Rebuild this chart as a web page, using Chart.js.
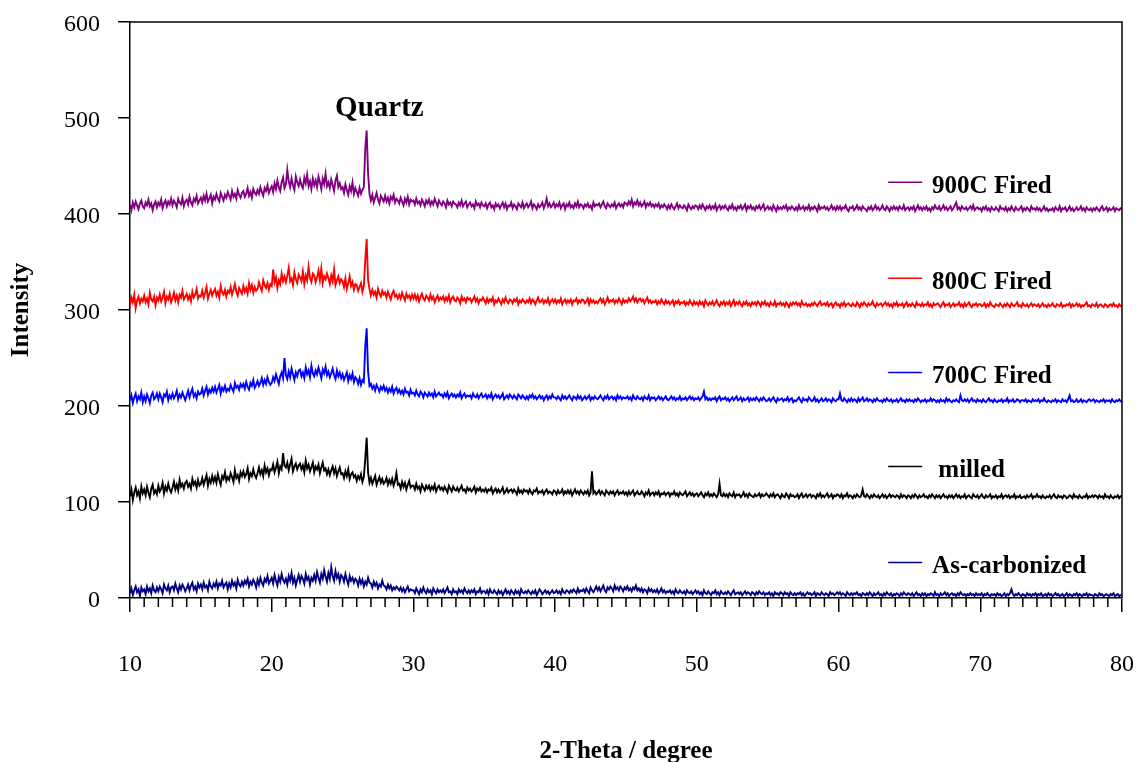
<!DOCTYPE html>
<html><head><meta charset="utf-8">
<script src="https://cdn.jsdelivr.net/npm/chart.js@4.4.1/dist/chart.umd.min.js"></script>
<style>html,body{margin:0;padding:0;background:#fff;}canvas{display:block;}</style>
</head><body>
<canvas id="c" width="1137" height="762"></canvas>
<script>
// ---- data: intensities, 2-theta from 10 to 80 in 0.1 degree steps (one line = one degree) ----
const TWO_THETA_START = 10;
const TWO_THETA_STEP = 0.1;
const X_TICKS = [10, 20, 30, 40, 50, 60, 70, 80];
const Y_TICKS = [0, 100, 200, 300, 400, 500, 600];
const SERIES_NAMES = ['900C Fired', '800C Fired', '700C Fired', 'milled', 'As-carbonized'];

const fired900 = [
410,404,412,407,413,409,405,411,414,408,
406,412,409,415,408,411,404,410,413,407,
412,409,415,406,411,414,408,413,410,416,
409,414,411,407,416,412,410,417,408,413,
415,410,418,412,409,416,413,419,411,414,
417,412,419,414,421,413,416,420,411,418,
415,421,416,413,422,418,414,420,417,423,
419,415,424,418,421,416,425,420,417,422,
424,418,421,427,419,423,417,426,422,420,
425,421,428,423,419,427,424,430,422,426,
429,423,432,426,435,428,424,433,438,427,
431,446,434,428,437,430,425,439,433,429,
436,430,427,438,432,441,429,434,426,437,
430,435,428,439,433,426,437,431,442,429,
433,427,436,430,424,435,440,428,432,426,
428,422,431,425,420,429,424,433,421,427,
423,419,427,421,425,428,468,487,442,421,
414,420,412,417,422,415,411,419,416,413,
419,413,417,411,418,415,420,412,416,414,
411,417,413,409,416,412,418,410,415,413,
414,410,416,411,413,409,415,412,408,414,
411,415,409,413,410,416,412,408,414,411,
409,413,411,407,414,410,412,408,413,411,
410,407,412,409,414,408,411,413,407,410,
412,408,410,406,413,409,411,407,412,409,
408,411,406,410,412,407,409,405,411,408,
410,406,409,412,407,411,405,409,408,412,
406,410,408,405,411,409,407,412,406,409,
411,407,409,413,406,410,408,405,410,407,
409,412,406,410,416,408,411,407,409,412,
407,410,408,412,406,409,411,405,410,408,
412,407,409,406,411,408,413,407,410,409,
406,410,408,411,407,409,405,412,408,410,
409,411,407,410,413,408,406,411,409,407,
410,408,412,406,409,411,408,410,407,412,
411,409,413,410,415,408,412,410,414,409,
412,408,410,413,407,411,409,412,408,410,
407,410,408,411,406,409,407,410,408,405,
409,406,410,407,405,408,411,406,409,407,
406,409,407,404,410,407,405,408,406,409,
408,405,409,406,410,407,404,408,406,409,
405,408,406,410,404,407,409,405,408,406,
409,406,404,408,406,410,405,407,404,408,
406,409,405,407,410,404,408,406,409,405,
407,404,408,406,409,405,407,410,404,406,
408,405,407,404,409,406,403,408,405,407,
405,408,406,409,404,407,405,408,406,404,
407,404,409,405,406,408,404,407,405,409,
404,407,405,408,406,403,409,405,407,406,
408,405,407,404,406,409,405,407,404,408,
405,408,404,407,406,409,405,403,407,406,
408,404,406,409,405,407,404,408,406,405,
403,407,405,408,404,406,409,405,407,404,
406,409,405,404,408,406,403,407,405,408,
405,407,404,408,406,405,409,404,406,407,
404,407,405,408,403,406,409,405,407,404,
407,405,408,404,406,403,407,405,409,406,
405,408,404,406,409,405,407,404,406,408,
404,406,409,412,405,407,404,408,406,405,
407,404,406,408,405,409,404,406,407,405,
406,403,407,405,408,404,406,403,407,405,
404,407,405,403,408,405,406,404,407,403,
406,404,408,405,403,407,405,404,406,408,
403,406,404,407,405,403,408,405,406,404,
407,404,406,403,405,408,404,406,403,405,
404,406,403,407,405,404,408,403,406,405,
407,403,405,408,404,406,403,405,407,404,
405,408,404,406,403,407,405,404,406,403,
406,404,407,405,403,406,408,404,405,407,
403,406,404,405,407,403,406,405,404,406,
405];

const fired800 = [
305,313,308,316,302,310,314,307,312,309,
315,308,312,306,318,311,309,314,305,313,
310,316,309,313,319,307,314,311,317,308,
312,318,310,315,308,316,313,320,311,314,
317,311,315,309,319,313,316,322,312,315,
314,320,313,318,324,312,317,321,315,319,
322,315,319,313,325,318,316,321,314,320,
318,324,316,321,327,319,315,323,320,317,
325,319,323,317,328,321,326,318,324,320,
322,329,324,320,331,326,323,328,321,327,
325,342,329,334,323,331,327,338,330,335,
329,336,344,330,333,326,339,332,328,337,
334,330,340,327,336,331,345,333,329,338,
336,329,334,341,331,343,328,335,332,338,
333,327,336,330,342,326,331,335,328,332,
330,324,333,322,328,335,325,329,321,327,
326,320,324,328,319,325,352,374,331,322,
315,321,316,319,313,322,317,314,320,316,
318,313,319,315,311,317,320,314,316,312,
316,312,318,314,310,317,313,315,311,316,
312,316,311,315,309,314,317,312,310,315,
313,310,316,311,314,308,312,315,310,313,
311,314,309,313,310,315,308,312,314,310,
309,313,311,307,314,310,312,308,313,311,
312,308,311,314,309,312,307,311,310,313,
310,307,312,308,311,309,313,306,310,308,
312,309,306,311,308,313,309,307,311,310,
307,311,309,312,306,310,308,311,309,307,
310,308,312,307,311,309,306,310,313,308,
309,311,307,310,308,312,306,309,311,308,
311,307,310,308,312,306,309,311,307,310,
308,311,306,310,309,312,307,310,308,311,
310,307,309,312,306,311,308,310,307,309,
307,310,312,308,311,306,309,313,308,310,
309,311,307,310,308,312,309,306,311,308,
310,308,312,309,311,314,309,312,308,311,
312,309,311,307,310,313,308,310,307,309,
308,310,306,309,307,311,308,306,310,307,
309,306,308,310,305,309,307,310,306,308,
307,309,305,308,306,310,307,305,309,306,
308,305,309,306,308,304,310,307,305,308,
306,309,305,307,310,306,304,308,306,309,
305,308,306,309,304,307,310,305,308,306,
309,306,304,308,306,309,305,307,304,308,
306,308,305,309,307,304,308,306,309,305,
307,304,308,306,305,309,304,307,306,308,
305,307,304,308,306,303,307,305,308,306,
308,305,307,304,309,306,305,307,304,306,
304,307,305,308,306,304,307,309,305,306,
307,305,308,304,306,307,303,306,308,305,
306,303,307,305,308,304,306,307,305,304,
307,305,304,308,306,303,307,305,308,306,
304,307,305,306,309,305,303,307,305,306,
307,304,306,308,305,307,304,306,303,307,
305,308,304,306,305,307,303,306,308,304,
306,304,307,305,303,308,305,306,304,307,
304,306,305,308,304,306,303,307,305,306,
307,305,303,306,308,304,306,305,307,303,
305,307,304,306,305,308,304,306,303,307,
304,306,308,305,303,306,305,307,304,306,
306,304,305,307,303,306,304,308,305,304,
303,306,305,304,307,305,303,306,304,307,
305,303,307,305,304,306,308,304,305,303,
307,305,304,306,303,305,307,304,306,305,
304,306,303,305,307,304,305,303,306,304,
305,307,304,303,306,305,304,307,303,305,
304,306,305,307,303,306,304,305,307,304,
306,303,305,304,306,308,304,305,303,306,
305,304,307,303,305,306,304,303,306,305,
303,305,306,304,307,304,305,303,306,304,
305];

const fired700 = [
206,211,203,209,213,205,210,207,214,204,
210,205,212,208,203,211,214,207,209,213,
207,213,209,204,212,210,215,206,211,208,
213,208,211,216,207,212,209,214,210,206,
211,216,209,214,218,210,213,208,215,212,
213,218,211,216,220,212,217,214,219,215,
220,214,218,222,213,219,216,221,215,218,
216,222,218,215,224,219,221,217,223,220,
223,218,225,220,217,224,221,227,219,222,
226,221,224,229,222,227,223,230,225,222,
224,230,226,233,228,223,231,235,229,250,
232,228,236,230,239,233,227,235,231,237,
238,231,235,229,240,233,237,230,242,234,
231,237,233,240,235,229,238,234,241,232,
236,230,234,239,232,228,237,231,235,229,
233,227,231,235,226,232,228,234,225,230,
228,223,229,222,227,225,262,281,236,221,
223,218,221,216,222,219,215,220,217,221,
216,219,214,218,215,220,213,217,219,214,
217,213,216,212,218,214,215,211,217,213,
214,211,216,212,210,215,213,209,214,212,
210,214,211,213,209,215,210,212,214,211,
212,209,213,210,214,208,211,213,210,212,
209,212,210,214,208,211,213,209,211,210,
211,208,213,210,209,212,208,211,213,209,
210,212,208,211,209,213,207,210,212,209,
211,208,210,213,207,209,211,208,212,210,
208,211,209,207,212,210,208,211,209,207,
210,207,211,209,212,208,210,207,209,211,
208,210,206,209,211,207,210,208,212,209,
209,207,210,208,206,211,208,210,207,209,
211,208,206,210,209,207,211,208,210,206,
208,210,207,209,211,206,209,207,210,208,
207,209,211,208,206,210,208,211,207,209,
210,207,209,206,211,208,210,207,209,208,
208,210,207,209,206,211,208,207,210,208,
207,209,206,210,208,207,211,206,209,208,
209,206,208,210,207,209,206,208,210,207,
206,208,210,207,209,206,208,207,210,206,
208,207,209,206,208,210,207,209,206,208,
207,209,206,208,210,215,207,209,206,208,
206,208,207,209,205,208,210,206,208,207,
209,206,208,205,207,209,206,208,210,206,
207,209,205,208,206,207,209,205,208,206,
208,206,209,207,205,208,206,209,207,205,
206,208,205,207,209,206,204,208,206,207,
208,205,207,206,209,205,207,208,204,206,
205,207,209,206,204,208,206,207,205,209,
207,205,206,209,205,207,204,206,208,205,
206,208,205,207,206,204,208,206,205,207,
207,213,206,205,208,206,204,207,205,208,
205,207,206,204,208,205,207,209,205,206,
208,205,207,206,204,207,205,208,206,205,
206,204,207,205,208,206,205,207,204,206,
205,207,204,206,208,205,206,204,207,205,
207,205,206,204,207,205,208,206,204,206,
205,207,204,206,205,208,205,207,206,204,
206,204,207,205,206,204,208,205,207,205,
204,206,205,207,205,204,211,206,205,207,
205,207,204,206,208,205,206,204,207,205,
206,204,207,205,204,206,208,205,206,204,
207,205,204,206,205,207,204,206,205,208,
204,206,205,207,204,205,207,206,204,206,
206,205,207,204,206,205,204,207,205,206,
205,207,204,206,205,208,205,204,206,205,
204,206,205,207,204,206,205,204,207,205,
206,204,207,211,205,206,204,205,207,204,
205,207,204,206,205,204,206,207,205,206,
207,204,206,205,204,206,205,207,204,206,
205,206,204,207,205,204,206,205,207,205,
205];

const milled = [
106,113,102,110,115,107,111,104,116,109,
113,107,116,110,105,114,118,109,112,108,
117,111,114,120,109,116,112,119,113,110,
115,121,113,118,112,123,116,119,114,120,
122,116,119,114,124,118,121,115,123,117,
119,125,118,123,128,117,124,120,127,121,
126,120,129,123,118,127,124,131,122,126,
123,130,126,121,133,125,128,122,131,127,
132,126,129,135,124,130,127,134,128,125,
130,136,129,133,127,138,131,135,128,134,
133,139,131,136,142,130,137,134,151,138,
136,141,133,139,145,132,137,140,134,138,
140,134,138,131,143,135,139,132,136,141,
131,137,134,139,130,136,141,133,135,129,
134,128,133,137,130,135,127,132,136,129,
130,125,132,127,134,124,129,131,126,128,
122,127,124,129,121,126,145,167,131,120,
125,119,123,127,118,122,126,120,124,119,
121,125,118,123,119,124,117,122,130,118,
119,114,121,116,120,113,118,122,115,117,
117,113,119,114,116,111,118,115,112,117,
114,117,112,116,113,118,111,115,117,113,
115,112,116,113,110,117,114,111,116,113,
112,115,111,114,117,112,113,110,115,112,
114,111,113,116,110,114,112,115,111,113,
111,114,110,113,112,115,109,112,114,110,
113,110,112,115,109,111,114,110,112,113,
110,113,111,108,114,110,112,109,113,111,
112,109,113,110,108,112,111,114,109,111,
110,112,108,111,113,109,111,110,108,112,
111,108,112,109,110,113,108,111,109,112,
109,112,107,110,113,109,111,108,112,110,
108,111,109,112,107,110,132,109,111,108,
110,112,108,111,109,107,112,110,108,111,
109,111,107,110,112,108,110,109,111,108,
110,107,111,108,110,112,107,109,111,108,
108,111,109,106,110,108,112,107,109,110,
107,110,108,111,106,109,108,110,107,109,
110,106,109,108,111,107,109,106,110,108,
107,109,111,106,108,110,107,109,106,108,
109,106,108,110,107,105,109,107,110,106,
108,106,109,107,105,108,119,107,106,109,
106,108,105,109,107,106,110,105,108,107,
108,105,107,110,106,108,105,109,107,106,
105,108,106,107,109,105,108,106,107,109,
107,105,108,106,109,105,107,108,106,104,
108,106,105,109,107,104,108,106,107,105,
106,108,104,107,109,105,106,108,105,107,
108,105,107,106,104,108,106,109,105,107,
105,107,109,105,106,108,104,107,106,108,
107,105,108,104,107,106,109,105,107,106,
104,107,105,108,106,105,107,113,106,105,
108,106,104,107,105,108,106,105,107,104,
106,108,105,107,104,106,108,105,107,106,
105,107,106,104,108,105,107,106,104,107,
106,104,107,105,108,106,104,107,105,106,
108,105,106,104,107,105,108,106,104,107,
105,107,104,106,108,105,106,104,107,105,
107,104,106,108,105,107,104,106,105,108,
104,106,107,105,104,108,106,105,107,104,
106,108,105,104,107,105,106,108,104,106,
105,107,104,106,105,108,104,106,107,105,
107,104,106,105,108,104,106,105,107,104,
105,106,104,107,105,106,108,104,106,105,
108,105,106,104,107,105,104,106,105,107,
104,106,108,105,104,107,105,106,104,107,
106,104,105,107,106,104,108,105,106,104,
107,105,104,106,105,108,104,106,105,107,
105,107,106,104,107,105,106,104,108,105,
106,104,107,105,104,106,105,107,104,106,
106];

const asCarbonized = [
5,10,3,8,12,6,9,2,11,7,
9,4,12,7,10,5,13,8,6,11,
7,12,9,5,14,10,8,13,6,11,
12,8,15,10,6,13,9,14,11,7,
10,14,8,13,16,9,12,7,15,11,
14,9,16,11,13,8,17,12,10,15,
12,17,10,15,13,18,11,14,16,9,
15,11,18,13,16,10,19,14,12,17,
13,18,15,20,12,17,14,19,16,11,
19,14,21,16,13,20,17,23,15,18,
21,15,24,18,13,22,17,25,19,16,
20,14,23,18,26,16,21,13,19,24,
17,23,20,15,25,19,22,14,21,18,
24,18,27,21,16,25,20,29,22,17,
26,20,32,23,18,28,21,25,17,24,
22,17,25,19,14,23,18,21,16,20,
18,13,20,15,19,12,17,14,21,16,
15,11,17,13,16,10,14,12,18,13,
12,9,14,10,13,8,11,9,12,10,
8,11,7,10,6,9,12,7,9,8,
8,5,10,7,4,9,6,11,7,5,
9,6,8,4,10,7,5,9,6,8,
6,9,5,8,11,6,7,4,9,6,
7,4,9,6,8,5,10,7,5,8,
5,8,6,9,4,7,6,10,5,7,
7,5,8,4,9,6,5,8,6,4,
8,5,7,3,6,9,5,7,4,8,
6,4,8,5,7,3,9,6,5,7,
5,8,6,4,7,5,8,3,6,9,
7,4,6,8,5,7,4,6,8,5,
6,8,5,7,4,9,6,5,8,7,
5,8,6,9,7,5,10,6,8,7,
9,6,10,7,5,11,8,6,9,12,
8,11,7,10,13,8,6,11,9,12,
10,7,13,9,11,8,12,10,7,11,
9,12,8,10,7,11,9,13,8,10,
7,10,6,9,8,5,10,7,9,6,
8,6,9,5,7,10,6,8,5,7,
6,8,5,7,4,9,6,5,8,6,
5,7,4,8,6,5,7,4,6,8,
5,7,4,6,3,8,5,4,7,5,
3,6,5,8,4,6,3,7,5,4,
6,4,7,5,3,6,8,4,5,6,
4,6,3,5,7,4,6,5,3,6,
5,3,6,4,7,5,4,6,3,5,
4,6,3,5,2,6,4,5,3,6,
5,3,6,4,5,2,6,4,3,5,
3,5,4,6,3,5,2,4,6,4,
5,3,4,6,2,5,4,3,6,4,
3,5,4,2,6,4,5,3,4,6,
4,6,3,5,4,2,6,4,3,5,
3,5,4,6,3,4,2,5,4,3,
5,3,6,4,2,5,3,4,6,3,
4,2,5,3,6,4,3,5,2,4,
3,5,4,2,5,3,6,4,3,5,
4,3,5,2,4,6,3,4,2,5,
3,5,2,4,3,5,4,2,6,3,
4,2,5,3,4,6,3,5,2,4,
5,3,4,2,5,3,6,4,3,4,
2,4,3,5,3,4,2,5,3,4,
3,5,2,4,3,5,3,2,4,3,
4,2,5,3,4,2,3,5,2,4,
3,5,9,4,2,4,3,5,3,2,
4,3,2,5,3,4,2,4,3,5,
2,4,3,5,2,3,4,2,5,3,
4,2,3,5,3,4,2,3,4,2,
3,5,2,4,3,2,4,3,5,2,
4,3,2,4,3,5,2,4,3,3,
2,4,3,2,5,3,4,2,3,4,
3,2,4,3,5,2,3,4,2,3,
3];

// ---- presentation ----
const SERIES_VALUES = [fired900, fired800, fired700, milled, asCarbonized];
const SERIES_COLORS = ['#800080', '#ff0000', '#0000ff', '#000000', '#000080'];
const LABEL_TEXT = ['900C Fired', '800C Fired', '700C Fired', ' milled', 'As-carbonized'];
const LABEL_LAYOUT = { lineFrom: 63.5, lineTo: 65.9, textAt: 66.6, lineY: [433, 333, 235, 137, 37] };
const QUARTZ_NOTE = { text: 'Quartz', x: 27.6, y: 502 };
const SERIF = "'Liberation Serif', 'Times New Roman', serif";

function toPoints(vals) {
  return vals.map((v, i) => ({ x: +(TWO_THETA_START + i * TWO_THETA_STEP).toFixed(1), y: v }));
}

const datasets = SERIES_VALUES.map((vals, k) => ({
  label: SERIES_NAMES[k],
  data: toPoints(vals),
  borderColor: SERIES_COLORS[k],
  backgroundColor: SERIES_COLORS[k],
  borderWidth: 1.9,
  pointRadius: 0,
  tension: 0,
  fill: false
})).reverse();

const decor = {
  id: 'decor',
  afterDraw(chart) {
    const { ctx, chartArea: a, scales: { x, y } } = chart;
    ctx.save();
    ctx.strokeStyle = '#000';
    ctx.lineWidth = 1.5;
    ctx.beginPath();
    ctx.moveTo(a.left, a.top);
    ctx.lineTo(a.right, a.top);
    ctx.lineTo(a.right, a.bottom);
    ctx.stroke();
    // minor ticks every degree
    ctx.beginPath();
    for (let v = X_TICKS[0]; v <= X_TICKS[X_TICKS.length - 1]; v += 1) {
      if (X_TICKS.includes(v)) continue;
      const px = x.getPixelForValue(v);
      ctx.moveTo(px, a.bottom);
      ctx.lineTo(px, a.bottom + 9);
    }
    ctx.stroke();
    // tick labels
    ctx.fillStyle = '#000';
    ctx.font = "24px " + SERIF;
    ctx.textBaseline = 'middle';
    ctx.textAlign = 'right';
    Y_TICKS.forEach(v => ctx.fillText(String(v), a.left - 30, y.getPixelForValue(v) + 3));
    ctx.textAlign = 'center';
    X_TICKS.forEach(v => ctx.fillText(String(v), x.getPixelForValue(v), a.bottom + 67));
    // in-plot series labels
    ctx.font = "bold 25px " + SERIF;
    ctx.textAlign = 'left';
    ctx.textBaseline = 'alphabetic';
    LABEL_TEXT.forEach((t, k) => {
      const py = y.getPixelForValue(LABEL_LAYOUT.lineY[k]);
      ctx.strokeStyle = SERIES_COLORS[k];
      ctx.lineWidth = 1.5;
      ctx.beginPath();
      ctx.moveTo(x.getPixelForValue(LABEL_LAYOUT.lineFrom), py);
      ctx.lineTo(x.getPixelForValue(LABEL_LAYOUT.lineTo), py);
      ctx.stroke();
      ctx.fillText(t, x.getPixelForValue(LABEL_LAYOUT.textAt), py + 11);
    });
    // Quartz note
    ctx.font = "bold 29px " + SERIF;
    ctx.textAlign = 'center';
    ctx.fillText(QUARTZ_NOTE.text, x.getPixelForValue(QUARTZ_NOTE.x), y.getPixelForValue(QUARTZ_NOTE.y));
    // axis titles
    ctx.font = "bold 25px " + SERIF;
    ctx.fillText('2-Theta / degree', (a.left + a.right) / 2, 758);
    ctx.save();
    ctx.translate(22, (a.top + a.bottom) / 2);
    ctx.rotate(-Math.PI / 2);
    ctx.textBaseline = 'middle';
    ctx.fillText('Intensity', 0, 0);
    ctx.restore();
    ctx.restore();
  }
};

new Chart(document.getElementById('c'), {
  type: 'line',
  data: { datasets },
  options: {
    responsive: false,
    animation: false,
    devicePixelRatio: 1,
    layout: { padding: { top: 22, right: 15, left: 0, bottom: 0 } },
    plugins: { legend: { display: false }, tooltip: { enabled: false } },
    scales: {
      x: {
        type: 'linear', position: 'bottom', min: 10, max: 80,
        afterBuildTicks: s => { s.ticks = X_TICKS.map(v => ({ value: v })); },
        afterFit: s => { s.height = 164; },
        ticks: { display: false },
        grid: { display: true, drawOnChartArea: false, drawTicks: true, tickLength: 14, color: '#000', lineWidth: 1.5 },
        border: { display: true, color: '#000', width: 1.5 }
      },
      y: {
        type: 'linear', min: 0, max: 600,
        afterBuildTicks: s => { s.ticks = Y_TICKS.map(v => ({ value: v })); },
        afterFit: s => { s.width = 130; },
        ticks: { display: false },
        grid: { display: true, drawOnChartArea: false, drawTicks: true, tickLength: 12, color: '#000', lineWidth: 1.5 },
        border: { display: true, color: '#000', width: 1.5 }
      }
    }
  },
  plugins: [decor]
});
</script>
</body></html>
